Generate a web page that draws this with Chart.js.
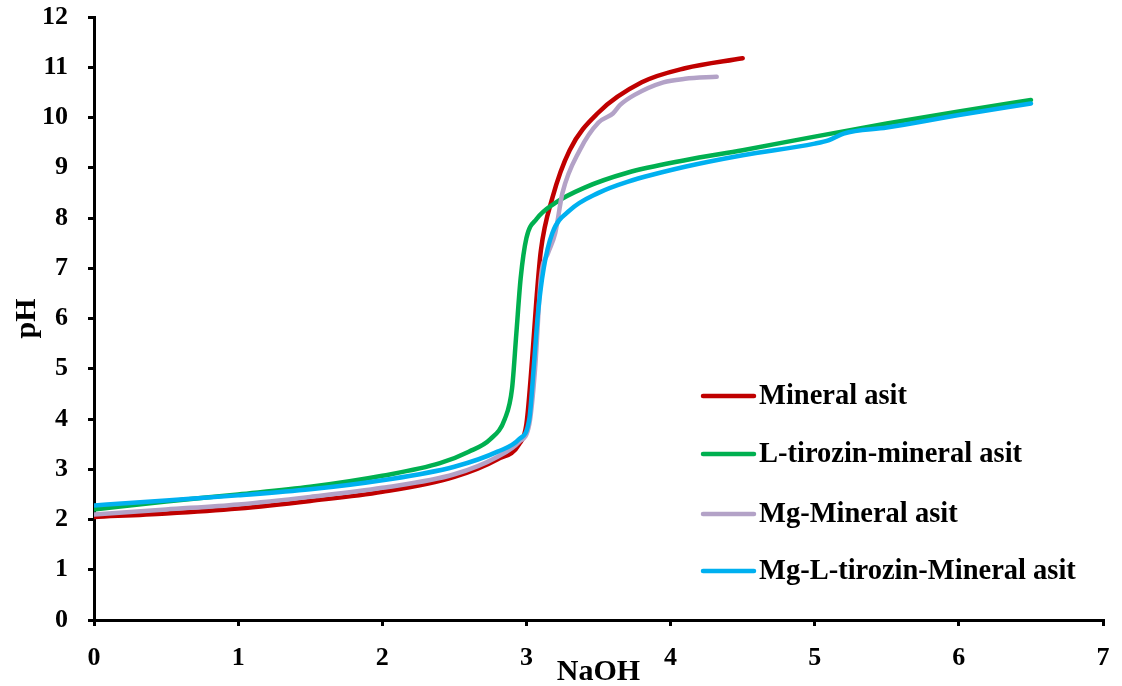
<!DOCTYPE html>
<html>
<head>
<meta charset="utf-8">
<script src="https://cdn.jsdelivr.net/npm/chart.js@4"></script>
<style>
  html, body { margin: 0; padding: 0; background: #fff; }
  #wrap { width: 1122px; height: 686px; }
</style>
</head>
<body>
<div id="wrap"><canvas id="chart" width="1122" height="686"></canvas></div>
<script>
// titration curves, pH vs NaOH
const seriesNames = ['Mineral asit', 'L-tirozin-mineral asit', 'Mg-Mineral asit', 'Mg-L-tirozin-Mineral asit'];
const seriesColors = ['#c00000', '#00b050', '#b3a2c7', '#00b0f0'];

const redX = [0, 0.5, 1, 1.5, 2, 2.5, 2.8, 2.95, 3.0, 3.04, 3.07, 3.1, 3.18, 3.3, 3.5, 3.8, 4.1, 4.5];
const redY = [2.05, 2.12, 2.22, 2.37, 2.55, 2.85, 3.2, 3.5, 3.9, 5.2, 6.4, 7.35, 8.4, 9.35, 10.1, 10.7, 10.98, 11.18];

const greenX = [0, 0.5, 1, 1.5, 2, 2.4, 2.6, 2.75, 2.85, 2.9, 2.93, 2.96, 3.0, 3.07, 3.2, 3.4, 3.7, 4.1, 4.5, 5, 5.5, 6, 6.5];
const greenY = [2.2, 2.36, 2.5, 2.65, 2.87, 3.12, 3.35, 3.6, 4.0, 4.6, 5.7, 6.8, 7.6, 7.98, 8.3, 8.6, 8.9, 9.15, 9.35, 9.62, 9.88, 10.12, 10.35];

const purpleX = [0, 0.5, 1, 1.5, 2, 2.5, 2.8, 2.95, 3.02, 3.06, 3.1, 3.15, 3.2, 3.25, 3.37, 3.5, 3.6, 3.65, 3.75, 3.95, 4.1, 4.32];
const purpleY = [2.1, 2.2, 2.3, 2.45, 2.63, 2.9, 3.25, 3.55, 3.9, 5.0, 6.8, 7.3, 7.7, 8.5, 9.35, 9.9, 10.08, 10.25, 10.45, 10.7, 10.77, 10.81];

const blueX = [0, 0.5, 1, 1.5, 2, 2.5, 2.8, 2.95, 3.02, 3.05, 3.08, 3.12, 3.18, 3.3, 3.5, 3.7, 4.1, 4.5, 5.0, 5.1, 5.2, 5.5, 6, 6.5];
const blueY = [2.28, 2.38, 2.48, 2.6, 2.78, 3.05, 3.35, 3.6, 4.0, 5.0, 6.1, 7.0, 7.7, 8.15, 8.5, 8.72, 9.02, 9.25, 9.48, 9.55, 9.68, 9.8, 10.05, 10.28];

const xTicks = [0, 1, 2, 3, 4, 5, 6, 7];
const yTicks = [0, 1, 2, 3, 4, 5, 6, 7, 8, 9, 10, 11, 12];

const FONT = 'Liberation Serif, "Times New Roman", serif';

function toPoints(xs, ys) {
    return xs.map((x, i) => ({ x: x, y: ys[i] }));
}

const allX = [redX, greenX, purpleX, blueX];
const allY = [redY, greenY, purpleY, blueY];

const datasets = seriesNames.map((name, i) => ({
    label: name,
    data: toPoints(allX[i], allY[i]),
    borderColor: seriesColors[i],
    backgroundColor: seriesColors[i],
    borderWidth: 4.5,
    showLine: true,
    pointRadius: 0,
    cubicInterpolationMode: 'monotone',
    borderCapStyle: 'round',
    order: 4 - i
}));

// legend drawn inside the plot area
const legendInside = {
    id: 'legendInside',
    afterDatasetsDraw(chart) {
        const ctx = chart.ctx;
        const rows = [396, 454, 514, 571];
        ctx.save();
        ctx.font = 'bold 28.5px ' + FONT;
        ctx.textBaseline = 'middle';
        chart.data.datasets.forEach((ds, i) => {
            ctx.strokeStyle = ds.borderColor;
            ctx.lineWidth = 4.5;
            ctx.lineCap = 'round';
            ctx.beginPath();
            ctx.moveTo(703, rows[i]);
            ctx.lineTo(754, rows[i]);
            ctx.stroke();
            ctx.fillStyle = '#000';
            ctx.fillText(ds.label, 759, rows[i] + 1);
        });
        ctx.restore();
    }
};

new Chart(document.getElementById('chart'), {
    type: 'scatter',
    data: { datasets: datasets },
    options: {
        responsive: false,
        animation: false,
        layout: { padding: { top: 17, right: 19, left: 0, bottom: 0 } },
        plugins: {
            legend: { display: false },
            tooltip: { enabled: false }
        },
        scales: {
            x: {
                type: 'linear',
                min: 0,
                max: 7,
                afterBuildTicks: (axis) => { axis.ticks = xTicks.map(v => ({ value: v })); },
                afterFit: (axis) => {
                    axis.height = 66;
                    axis.paddingLeft = 0;
                    axis.paddingRight = 0;
                },
                border: { color: '#000', width: 3 },
                grid: { drawOnChartArea: false, color: '#000', lineWidth: 3, tickLength: 6 },
                ticks: { color: '#000', font: { family: FONT, size: 26, weight: 'bold' }, padding: 17 },
                title: {
                    display: true,
                    text: 'NaOH',
                    color: '#000',
                    font: { family: FONT, size: 30, weight: 'bold' },
                    padding: { top: 0, bottom: -4 }
                }
            },
            y: {
                type: 'linear',
                min: 0,
                max: 12,
                afterBuildTicks: (axis) => { axis.ticks = yTicks.map(v => ({ value: v })); },
                afterFit: (axis) => {
                    axis.width = 94;
                    axis.paddingTop = 0;
                    axis.paddingBottom = 0;
                },
                border: { color: '#000', width: 3 },
                grid: { drawOnChartArea: false, color: '#000', lineWidth: 3, tickLength: 6 },
                ticks: { color: '#000', font: { family: FONT, size: 26, weight: 'bold' }, padding: 20 },
                title: {
                    display: true,
                    text: 'pH',
                    color: '#000',
                    font: { family: FONT, size: 30, weight: 'bold' },
                    padding: { top: 9, bottom: 0 }
                }
            }
        }
    },
    plugins: [legendInside]
});
</script>
</body>
</html>
